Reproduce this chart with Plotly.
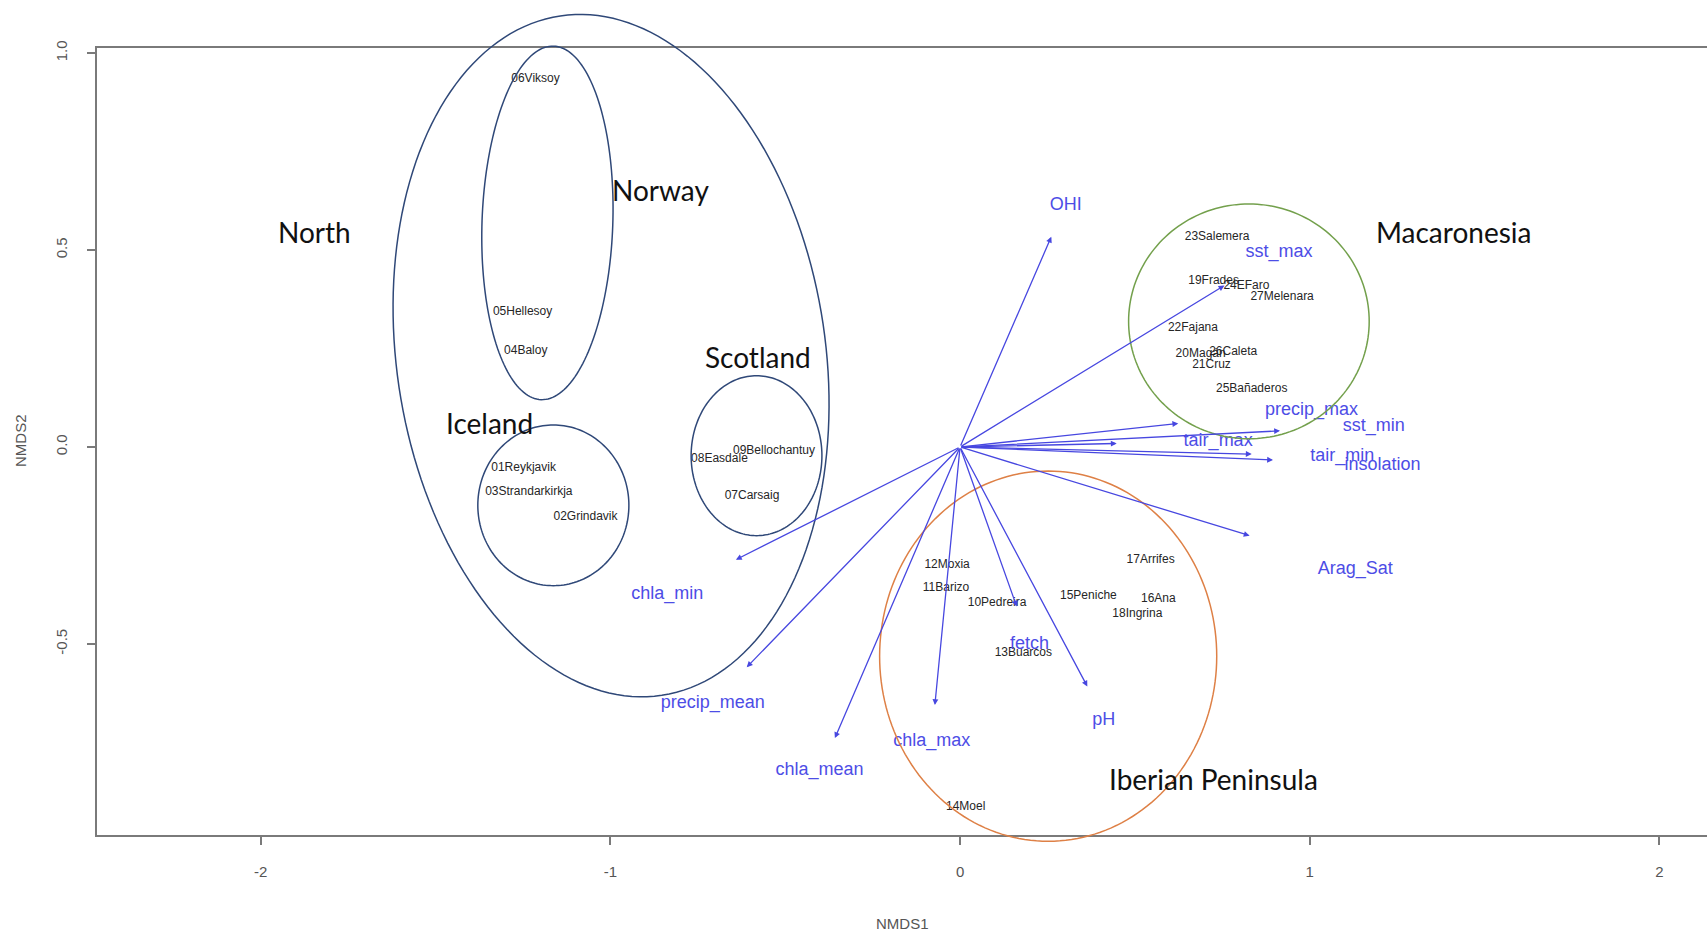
import numpy as np
import plotly.graph_objects as go

# ---------------- data ----------------
# NMDS site scores (label drawn at the site position)
site_names = ["06Viksoy", "05Hellesoy", "04Baloy", "01Reykjavik", "03Strandarkirkja",
              "02Grindavik", "08Easdale", "09Bellochantuy", "07Carsaig",
              "23Salemera", "19Frades", "24EFaro", "27Melenara", "22Fajana",
              "20Magán", "26Caleta", "21Cruz", "25Bañaderos",
              "12Moxia", "11Barizo", "10Pedreira", "13Buarcos", "15Peniche",
              "17Arrifes", "16Ana", "18Ingrina", "14Moel"]
site_x = [-1.214, -1.251, -1.242, -1.248, -1.233, -1.071, -0.688, -0.532, -0.595,
          0.735, 0.725, 0.819, 0.921, 0.666, 0.688, 0.781, 0.719, 0.834,
          -0.037, -0.040, 0.106, 0.181, 0.367, 0.545, 0.567, 0.507, 0.016]
site_y = [0.935, 0.344, 0.245, -0.053, -0.114, -0.178, -0.031, -0.009, -0.125,
          0.532, 0.421, 0.410, 0.380, 0.302, 0.236, 0.242, 0.209, 0.148,
          -0.300, -0.357, -0.396, -0.523, -0.377, -0.286, -0.385, -0.424, -0.915]

# fitted environmental vectors: arrow tips and label anchors
env_names = ["OHI", "sst_max", "precip_max", "tair_max", "sst_min", "tair_min",
             "insolation", "Arag_Sat", "pH", "fetch", "chla_max", "chla_mean",
             "precip_mean", "chla_min"]
env_x = [0.261, 0.756, 0.624, 0.448, 0.915, 0.834, 0.895, 0.828, 0.364, 0.162,
         -0.072, -0.358, -0.610, -0.641]
env_y = [0.534, 0.410, 0.060, 0.009, 0.041, -0.018, -0.033, -0.225, -0.608, -0.405,
         -0.655, -0.739, -0.559, -0.286]
env_lab_x = [0.302, 0.912, 1.005, 0.738, 1.183, 1.093, 1.208, 1.130, 0.411, 0.199,
             -0.081, -0.402, -0.707, -0.837]
env_lab_y = [0.614, 0.493, 0.093, 0.013, 0.052, -0.023, -0.048, -0.311, -0.694, -0.501,
             -0.747, -0.822, -0.650, -0.374]

# group ellipses: centre, semi-axes (NMDS units) and tilt in degrees
group_names = ["North", "Norway", "Iceland", "Scotland", "Macaronesia", "Iberian Peninsula"]
ell_cx = [-0.998, -1.180, -1.163, -0.582, 0.826, 0.252]
ell_cy = [0.232, 0.569, -0.148, -0.022, 0.319, -0.531]
ell_rx = [0.613, 0.187, 0.216, 0.187, 0.344, 0.482]
ell_ry = [0.872, 0.449, 0.204, 0.203, 0.298, 0.470]
ell_tilt = [8.5, -2.0, 0.0, 0.0, 0.0, 0.0]
ell_color = ["#2f4878", "#2f4878", "#2f4878", "#2f4878", "#73a04c", "#de8046"]

# group name labels
group_lab_x = [-1.846, -0.856, -1.345, -0.579, 1.410, 0.725]
group_lab_y = [0.546, 0.653, 0.062, 0.228, 0.546, -0.843]

x_ticks = [-2, -1, 0, 1, 2]
x_tick_text = ["-2", "-1", "0", "1", "2"]
y_ticks = [-0.5, 0.0, 0.5, 1.0]
y_tick_text = ["-0.5", "0.0", "0.5", "1.0"]

# ---------------- layout geometry ----------------
W, H = 1707, 936
ML, MR, MT, MB = 97, 0, 48, 101
XR = [-2.468, 2.136]
YR = [-0.985, 1.013]
kx = (W - ML - MR) / (XR[1] - XR[0])   # px per NMDS1 unit
ky = (H - MT - MB) / (YR[1] - YR[0])   # px per NMDS2 unit

ARROW = "#4747e0"
ENV_TXT = "#4d4de6"

fig = go.Figure()

# ellipses, in paper coordinates so they may run past the frame
shapes = []
t = np.linspace(0, 2 * np.pi, 181)
for cx, cy, rx, ry, a, col in zip(ell_cx, ell_cy, ell_rx, ell_ry, ell_tilt, ell_color):
    th = np.deg2rad(a)
    u = rx * kx * np.cos(t)
    v = ry * ky * np.sin(t)
    ur = u * np.cos(th) - v * np.sin(th)
    vr = u * np.sin(th) + v * np.cos(th)
    xs = cx + ur / kx
    ys = cy + vr / ky
    px = (xs - XR[0]) / (XR[1] - XR[0])
    py = (ys - YR[0]) / (YR[1] - YR[0])
    path = "M " + " L ".join(f"{a_:.5f},{b_:.5f}" for a_, b_ in zip(px, py)) + " Z"
    shapes.append(dict(type="path", path=path, xref="paper", yref="paper",
                       line=dict(color=col, width=1.5), layer="above"))

# site labels
fig.add_trace(go.Scatter(
    x=site_x, y=site_y, mode="text", text=site_names,
    textfont=dict(family="Liberation Sans, Arial, sans-serif", size=12, color="#262626"),
    hoverinfo="skip", showlegend=False, cliponaxis=False))

# environmental vector labels
fig.add_trace(go.Scatter(
    x=env_lab_x, y=env_lab_y, mode="text", text=env_names,
    textfont=dict(family="Liberation Sans, Arial, sans-serif", size=18, color=ENV_TXT),
    hoverinfo="skip", showlegend=False, cliponaxis=False))

annotations = []
# environmental arrows from the origin
for ex, ey in zip(env_x, env_y):
    annotations.append(dict(
        x=ex, y=ey, xref="x", yref="y", ax=0, ay=0, axref="x", ayref="y",
        text="", showarrow=True, arrowhead=2, arrowsize=0.9, arrowwidth=1.3,
        arrowcolor=ARROW, standoff=0, startstandoff=0))

# group names
for name, gx, gy in zip(group_names, group_lab_x, group_lab_y):
    annotations.append(dict(
        x=gx, y=gy, xref="x", yref="y", text=name, showarrow=False,
        font=dict(family="Lato, Open Sans, sans-serif", size=28, color="#111111"),
        xanchor="center", yanchor="middle"))

# axis titles
annotations.append(dict(
    x=0.5, y=(835 - 923) / (H - MT - MB), xref="paper", yref="paper",
    text="NMDS1", showarrow=False, xanchor="center", yanchor="middle",
    font=dict(family="Liberation Sans, Arial, sans-serif", size=15, color="#555555")))
annotations.append(dict(
    x=(20 - ML) / (W - ML - MR), y=(835 - 441) / (H - MT - MB), xref="paper", yref="paper",
    text="NMDS2", showarrow=False, textangle=-90, xanchor="center", yanchor="middle",
    font=dict(family="Liberation Sans, Arial, sans-serif", size=15, color="#555555")))

axis_font = dict(family="Liberation Sans, Arial, sans-serif", size=15, color="#555555")

fig.update_layout(
    width=W, height=H, autosize=False,
    margin=dict(l=ML, r=MR, t=MT, b=MB, pad=0),
    paper_bgcolor="white", plot_bgcolor="white",
    showlegend=False,
    shapes=shapes,
    annotations=annotations,
    xaxis=dict(range=XR, showgrid=False, zeroline=False,
               showline=True, linecolor="#7a7a7a", linewidth=2, mirror=True,
               ticks="outside", ticklen=8, tickwidth=1.5, tickcolor="#7a7a7a",
               tickvals=x_ticks, ticktext=x_tick_text, tickfont=axis_font,
               ticklabelstandoff=14),
    yaxis=dict(range=YR, showgrid=False, zeroline=False,
               showline=True, linecolor="#7a7a7a", linewidth=2, mirror=False,
               ticks="outside", ticklen=8, tickwidth=1.5, tickcolor="#7a7a7a",
               tickvals=y_ticks, ticktext=y_tick_text, tickfont=axis_font,
               tickangle=-90, ticklabelstandoff=14),
)

fig.write_html("out.html")
